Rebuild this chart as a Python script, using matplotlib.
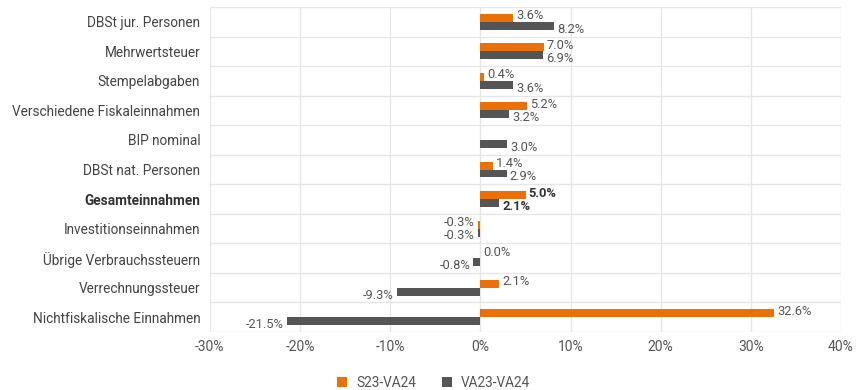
import matplotlib
matplotlib.use("Agg")
import matplotlib.pyplot as plt
from matplotlib.patches import Patch
import numpy as np

plt.rcParams['font.family'] = ['Roboto', 'DejaVu Sans']

categories = ["DBSt jur. Personen", "Mehrwertsteuer", "Stempelabgaben",
              "Verschiedene Fiskaleinnahmen", "BIP nominal", "DBSt nat. Personen",
              "Gesamteinnahmen", "Investitionseinnahmen", "Übrige Verbrauchssteuern",
              "Verrechnungssteuer", "Nichtfiskalische Einnahmen"]
s23_va24 = [3.6, 7.0, 0.4, 5.2, None, 1.4, 5.0, -0.3, 0.0, 2.1, 32.6]
va23_va24 = [8.2, 6.9, 3.6, 3.2, 3.0, 2.9, 2.1, -0.3, -0.8, -9.3, -21.5]
series_names = ["S23-VA24", "VA23-VA24"]
xticks = [-30, -20, -10, 0, 10, 20, 30, 40]
bold_category = "Gesamteinnahmen"

ORANGE = "#EC7008"
GREY = "#555555"
GRID = "#E6E6E6"
TXT = "#555555"

fig = plt.figure(figsize=(8.68, 3.9), dpi=100)
ax = fig.add_axes([210/868, 1-332/390, (841-210)/868, (332-7)/390])

n = len(categories)
y = np.arange(n)
h = 0.27
for i, (a, b) in enumerate(zip(s23_va24, va23_va24)):
    bold = categories[i] == bold_category
    fw = 'bold' if bold else 'normal'
    tc = "#333333" if bold else TXT
    if a is not None:
        ax.barh(i - h/2, a, height=h, color=ORANGE, edgecolor='none', zorder=3)
        if a >= 0:
            ax.text(a + 0.35, i - 0.2, f"{a:.1f}%", ha='left', va='center',
                    fontsize=9.3, color=tc, fontweight=fw, zorder=4)
        else:
            ax.text(a - 0.35, i - 0.2, f"{a:.1f}%", ha='right', va='center',
                    fontsize=9.3, color=tc, fontweight=fw, zorder=4)
    ax.barh(i + h/2, b, height=h, color=GREY, edgecolor='none', zorder=3)
    if b >= 0:
        ax.text(b + 0.35, i + 0.25, f"{b:.1f}%", ha='left', va='center',
                fontsize=9.3, color=tc, fontweight=fw, zorder=4)
    else:
        ax.text(b - 0.35, i + 0.25, f"{b:.1f}%", ha='right', va='center',
                fontsize=9.3, color=tc, fontweight=fw, zorder=4)

ax.set_xlim(-30, 40)
ax.set_ylim(n - 0.5, -0.5)
ax.set_xticks(xticks)
ax.set_xticklabels([f"{t}%" for t in xticks], fontsize=10, color=TXT)
ax.set_yticks(y)
ax.set_yticklabels(categories, fontsize=9.8, color="#444444")
for lbl in ax.get_yticklabels():
    if lbl.get_text() == bold_category:
        lbl.set_fontweight('bold')
        lbl.set_color("#333333")
ax.tick_params(axis='both', length=0)
ax.tick_params(axis='y', pad=7)
ax.tick_params(axis='x', pad=6)
for s in ax.spines.values():
    s.set_visible(False)
for t in xticks:
    ax.axvline(t, color=GRID, lw=0.9, zorder=1)
for b in np.arange(-0.5, n + 0.5, 1):
    ax.axhline(b, color=GRID, lw=0.9, zorder=1)

handles = [Patch(facecolor=ORANGE, edgecolor='none'), Patch(facecolor=GREY, edgecolor='none')]
fig.legend(handles, series_names, loc='center', bbox_to_anchor=(0.5, 1-383/390),
           ncol=2, frameon=False, fontsize=9.8, handlelength=0.7, handleheight=0.7,
           columnspacing=1.9, handletextpad=0.7, labelcolor=TXT)

fig.savefig("out.png", dpi=100)
